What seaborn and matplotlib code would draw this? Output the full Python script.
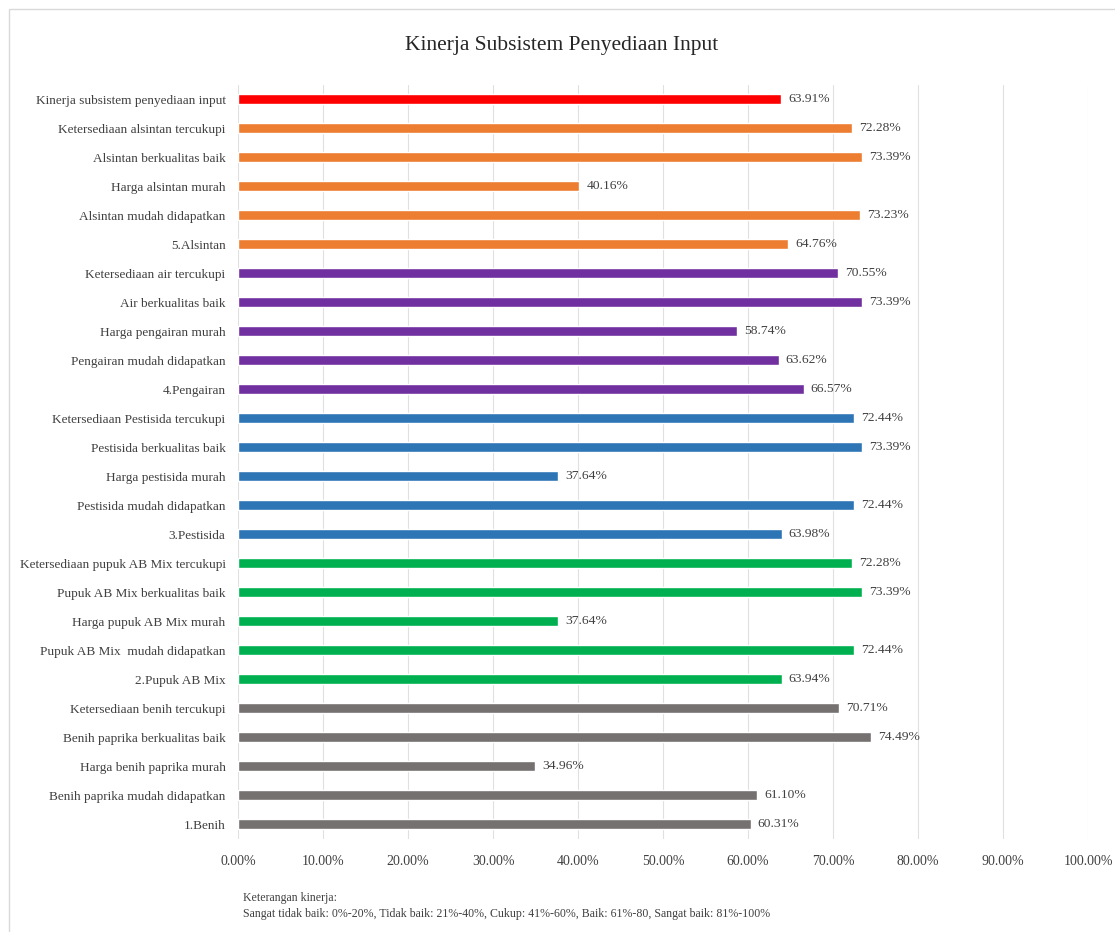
import matplotlib
matplotlib.use("Agg")
import matplotlib.pyplot as plt
from matplotlib.patches import Rectangle
from matplotlib.ticker import FuncFormatter, MultipleLocator
import seaborn as sns
import pandas as pd

# Indicators, listed top to bottom
labels = [
    "Kinerja subsistem penyediaan input",
    "Ketersediaan alsintan tercukupi",
    "Alsintan berkualitas baik",
    "Harga alsintan murah",
    "Alsintan mudah didapatkan",
    "5.Alsintan",
    "Ketersediaan air tercukupi",
    "Air berkualitas baik",
    "Harga pengairan murah",
    "Pengairan mudah didapatkan",
    "4.Pengairan",
    "Ketersediaan Pestisida tercukupi",
    "Pestisida berkualitas baik",
    "Harga pestisida murah",
    "Pestisida mudah didapatkan",
    "3.Pestisida",
    "Ketersediaan pupuk AB Mix tercukupi",
    "Pupuk AB Mix berkualitas baik",
    "Harga pupuk AB Mix murah",
    "Pupuk AB Mix  mudah didapatkan",
    "2.Pupuk AB Mix",
    "Ketersediaan benih tercukupi",
    "Benih paprika berkualitas baik",
    "Harga benih paprika murah",
    "Benih paprika mudah didapatkan",
    "1.Benih",
]

values = [
    63.91,
    72.28, 73.39, 40.16, 73.23, 64.76,
    70.55, 73.39, 58.74, 63.62, 66.57,
    72.44, 73.39, 37.64, 72.44, 63.98,
    72.28, 73.39, 37.64, 72.44, 63.94,
    70.71, 74.49, 34.96, 61.10, 60.31,
]

groups = (["Total"] + ["Alsintan"] * 5 + ["Pengairan"] * 5 + ["Pestisida"] * 5
          + ["Pupuk"] * 5 + ["Benih"] * 5)

group_colors = {
    "Total": "#FF0000",
    "Alsintan": "#ED7D31",
    "Pengairan": "#7030A0",
    "Pestisida": "#2E75B6",
    "Pupuk": "#00B050",
    "Benih": "#767171",
}

title = "Kinerja Subsistem Penyediaan Input"
note_lines = [
    "Keterangan kinerja:",
    "Sangat tidak baik: 0%-20%, Tidak baik: 21%-40%, Cukup: 41%-60%, Baik: 61%-80, Sangat baik: 81%-100%",
]

df = pd.DataFrame({"label": labels, "value": values, "group": groups})

sns.set_theme(style="white")
plt.rcParams["font.family"] = ["Liberation Serif", "DejaVu Serif"]

fig = plt.figure(figsize=(11.15, 9.32), dpi=100)
ax = fig.add_axes([0.2135, 0.1003, 0.7623, 0.809])

sns.barplot(data=df, x="value", y="label", hue="group", palette=group_colors,
            dodge=False, width=0.34, legend=False, ax=ax, order=labels,
            saturation=1)

for cont in ax.containers:
    ax.bar_label(cont, fmt="%.2f%%", padding=5, fontsize=9.7, color="#404040")

ax.set_xlim(0, 100)
ax.xaxis.set_major_locator(MultipleLocator(10))
ax.xaxis.set_major_formatter(FuncFormatter(lambda v, p: f"{v:.2f}%"))
ax.grid(axis="x", color="#E0E0E0", linewidth=0.8)
ax.set_axisbelow(True)
for s in ax.spines.values():
    s.set_visible(False)
ax.set_xlabel("")
ax.set_ylabel("")
ax.tick_params(axis="both", length=0, colors="#404040")
ax.tick_params(axis="y", labelsize=9.5, pad=9)
ax.tick_params(axis="x", pad=12, labelsize=10)

fig.text(0.504, 0.951, title, ha="center", va="center", fontsize=15.5, color="#262626")
fig.text(0.218, 0.036, note_lines[0], ha="left", va="center", fontsize=8.6, color="#404040")
fig.text(0.218, 0.019, note_lines[1], ha="left", va="center", fontsize=8.6, color="#404040")

fig.add_artist(Rectangle((0.008, -0.01), 1.0, 1.0, transform=fig.transFigure,
                         fill=False, edgecolor="#D9D9D9", linewidth=1))

fig.savefig("out.png", dpi=100)
